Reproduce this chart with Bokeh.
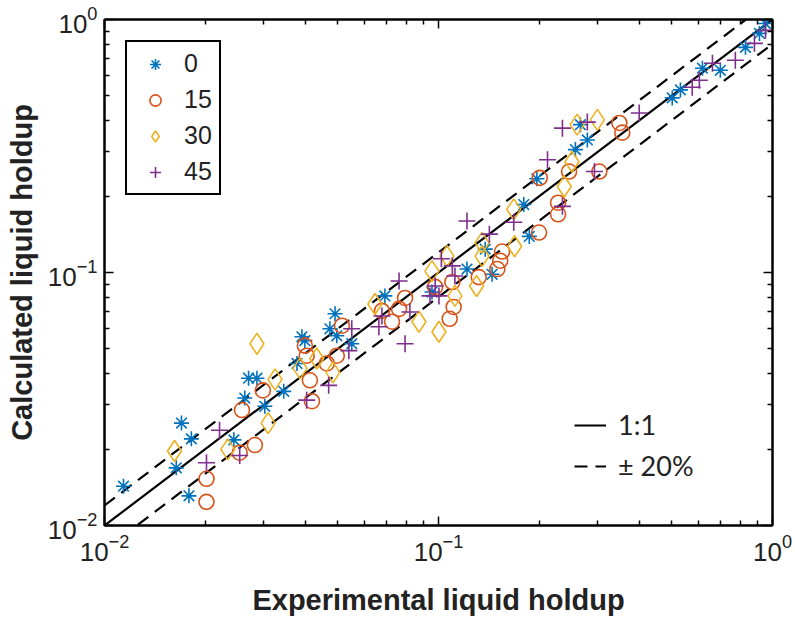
from bokeh.plotting import figure
from bokeh.models import (Range1d, LogAxis, Legend, LegendItem, FixedTicker,
                          LogTickFormatter, CustomJSTickFormatter)
from bokeh.embed import file_html
from bokeh.resources import INLINE

# Experimental (x) vs calculated (y) liquid holdup, per inclination series
exp_0 = [0.0114, 0.0170, 0.0182, 0.0164, 0.0179, 0.0244, 0.0270, 0.0286, 0.0344, 0.0263,
         0.0302, 0.0390, 0.0398, 0.0377, 0.0490, 0.0473, 0.0496, 0.0550, 0.0691, 0.1217,
         0.1447, 0.138, 0.180, 0.187, 0.197, 0.257, 0.279, 0.266, 0.501, 0.530,
         0.617, 0.698, 0.830, 0.914, 0.953, 0.0956]
calc_0 = [0.0143, 0.0254, 0.0220, 0.0169, 0.0131, 0.0218, 0.0382, 0.0382, 0.0339, 0.0319,
          0.0296, 0.0557, 0.0538, 0.0437, 0.0687, 0.0599, 0.0562, 0.0523, 0.0808, 0.1032,
          0.0984, 0.1237, 0.1856, 0.1389, 0.2347, 0.306, 0.334, 0.384, 0.490, 0.527,
          0.642, 0.630, 0.776, 0.881, 0.964, 0.0837]

exp_15 = [0.0202, 0.0202, 0.0258, 0.0282, 0.0254, 0.0298, 0.0398, 0.0403, 0.0412, 0.0418,
          0.0463, 0.0496, 0.0514, 0.0677, 0.0726, 0.0762, 0.0794, 0.0977, 0.111, 0.108,
          0.132, 0.155, 0.153, 0.150, 0.200, 0.228, 0.228, 0.201, 0.246, 0.303,
          0.348, 0.355, 0.110]
calc_15 = [0.0153, 0.0124, 0.0286, 0.0208, 0.0194, 0.0342, 0.0514, 0.0469, 0.0375, 0.0310,
           0.0437, 0.0469, 0.0616, 0.0705, 0.0639, 0.0718, 0.0793, 0.0877, 0.0731, 0.0656,
           0.0959, 0.1210, 0.1113, 0.1032, 0.1439, 0.1887, 0.1699, 0.2367, 0.2507, 0.2507,
           0.390, 0.357, 0.0917]

exp_30 = [0.0162, 0.0234, 0.0286, 0.0324, 0.0309, 0.0432, 0.0483, 0.0645, 0.0874, 0.1003,
          0.112, 0.0956, 0.106, 0.130, 0.135, 0.168, 0.169, 0.260, 0.299, 0.251,
          0.238, 0.135, 0.0385]
calc_30 = [0.0197, 0.0200, 0.0523, 0.0378, 0.0254, 0.0457, 0.0403, 0.0751, 0.0639, 0.0583,
           0.0808, 0.1013, 0.1161, 0.0884, 0.1161, 0.1777, 0.1270, 0.384, 0.401, 0.2740,
           0.2187, 0.1309, 0.0418]

exp_45 = [0.0202, 0.0221, 0.0254, 0.0403, 0.0469, 0.0539, 0.0550, 0.0677, 0.0663, 0.0794,
          0.0762, 0.1217, 0.168, 0.142, 0.110, 0.112, 0.102, 0.0977, 0.0943, 0.1003,
          0.0821, 0.575, 0.399, 0.235, 0.279, 0.212, 0.293, 0.235, 0.604, 0.661,
          0.774, 0.883, 0.953]
calc_45 = [0.0177, 0.0238, 0.0189, 0.0313, 0.0358, 0.0491, 0.0599, 0.0673, 0.0610, 0.0523,
           0.0925, 0.1599, 0.1579, 0.1418, 0.1062, 0.0969, 0.1133, 0.0884, 0.0808, 0.0808,
           0.0698, 0.540, 0.427, 0.372, 0.393, 0.279, 0.2507, 0.1826, 0.575, 0.672,
           0.690, 0.805, 0.906]

series_labels = ["0", "15", "30", "45"]
ref_x = [0.01, 1.0]
band = 0.20  # +/- 20 %
major_ticks = [0.01, 0.1, 1.0]
minor_ticks = [m * d for d in (0.01, 0.1) for m in range(2, 10)]

FONT = "Liberation Sans"

p = figure(width=792, height=618, x_axis_type="log", y_axis_type="log",
           x_range=Range1d(0.01, 1.0), y_range=Range1d(0.01, 1.0),
           output_backend="svg", toolbar_location=None,
           min_border_left=104, min_border_right=20, min_border_top=19, min_border_bottom=90)
p.xgrid.visible = False
p.ygrid.visible = False
p.outline_line_color = "black"
p.outline_line_width = 2
p.outline_line_alpha = 1

for ax in (p.xaxis[0], p.yaxis[0]):
    ax.ticker = FixedTicker(ticks=major_ticks, minor_ticks=minor_ticks)
    ax.formatter = LogTickFormatter()
    ax.axis_line_width = 2
    ax.major_tick_in = 9
    ax.major_tick_out = 0
    ax.minor_tick_in = 5
    ax.minor_tick_out = 0
    ax.major_tick_line_width = 1.5
    ax.minor_tick_line_width = 1.5
    ax.major_label_text_font = FONT
    ax.major_label_text_font_size = "26px"
    ax.major_label_text_color = "#222222"
    ax.axis_label_text_font = FONT
    ax.axis_label_text_font_style = "bold"
    ax.axis_label_text_font_size = "29px"
    ax.axis_label_text_color = "#222222"

p.xaxis[0].axis_label = "Experimental liquid holdup"
p.yaxis[0].axis_label = "Calculated liquid holdup"
p.xaxis[0].major_label_standoff = 8
p.yaxis[0].major_label_standoff = 7
p.xaxis[0].axis_label_standoff = 20
p.yaxis[0].axis_label_standoff = 7

for loc in ("right", "above"):
    ax = LogAxis(ticker=FixedTicker(ticks=major_ticks, minor_ticks=minor_ticks),
                 formatter=CustomJSTickFormatter(code="return ''"),
                 major_label_standoff=0,
                 major_tick_in=9, major_tick_out=0, minor_tick_in=5, minor_tick_out=0,
                 axis_line_width=2, major_tick_line_width=1.5, minor_tick_line_width=1.5)
    p.add_layout(ax, loc)

# reference lines
l_11 = p.line(ref_x, ref_x, line_color="black", line_width=2.2)
l_up = p.line(ref_x, [v * (1 + band) for v in ref_x], line_color="black", line_width=2.2,
              line_dash="13 8")
l_dn = p.line(ref_x, [v * (1 - band) for v in ref_x], line_color="black", line_width=2.2,
              line_dash="13 8")

r0 = p.scatter(exp_0, calc_0, marker="asterisk", size=15, line_color="#0072BD", line_width=1.6)
r15 = p.scatter(exp_15, calc_15, marker="circle", size=15, fill_color=None,
                line_color="#D95319", line_width=1.6)
r30 = p.scatter(exp_30, calc_30, marker="diamond", size=21, fill_color=None,
                line_color="#EDB120", line_width=1.6)
r45 = p.scatter(exp_45, calc_45, marker="cross", size=17, line_color="#7E2F8E", line_width=1.6)

leg1 = Legend(items=[LegendItem(label=series_labels[0], renderers=[r0]),
                     LegendItem(label=series_labels[1], renderers=[r15]),
                     LegendItem(label=series_labels[2], renderers=[r30]),
                     LegendItem(label=series_labels[3], renderers=[r45])],
              location="top_left", margin=21,
              border_line_color="black", border_line_width=2, border_line_alpha=1,
              label_text_font=FONT, label_text_font_size="25px", label_text_color="#222222",
              label_height=28, glyph_height=28, glyph_width=42, label_standoff=8,
              spacing=7, padding=7, background_fill_alpha=1)
p.add_layout(leg1)

leg2 = Legend(items=[LegendItem(label="1:1", renderers=[l_11]),
                     LegendItem(label="\u00b1 20%", renderers=[l_up])],
              location=(470, 43), border_line_color=None, background_fill_alpha=0,
              label_text_font="Lato", label_text_font_size="27px", label_text_color="#222222",
              glyph_width=32, label_height=30, glyph_height=30, label_standoff=12,
              spacing=8, padding=4)
p.add_layout(leg2)

open("out.html", "w").write(file_html(p, INLINE))
